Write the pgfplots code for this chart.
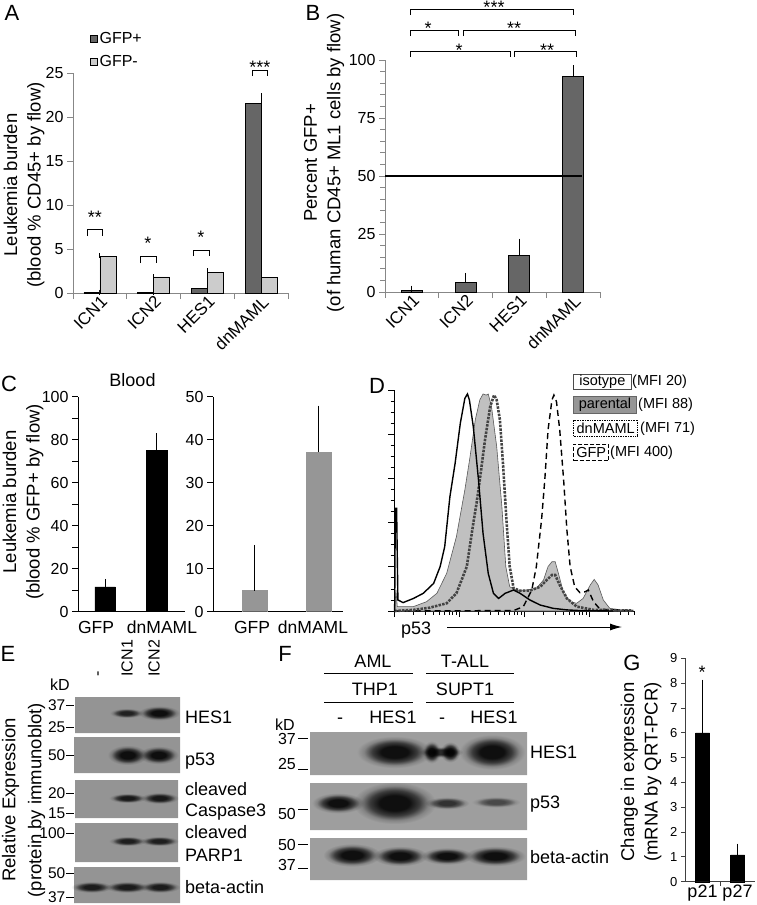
\documentclass[border=0pt]{standalone}
\usepackage{pgfplots}
\pgfplotsset{compat=1.18}
\usepackage{fontspec}
\setmainfont{Liberation Sans}
\usetikzlibrary{arrows.meta}
\newcommand\fs[2]{\fontsize{#1}{#2}\selectfont}
\definecolor{dgray}{RGB}{102,102,102}
\definecolor{lgray}{RGB}{204,204,204}
\definecolor{mgray}{RGB}{150,150,150}
\definecolor{axgray}{RGB}{135,135,135}
\definecolor{blotE}{RGB}{148,148,148}
\definecolor{blotF}{RGB}{158,158,158}
\definecolor{parfill}{RGB}{192,192,192}
\definecolor{dnline}{RGB}{68,68,68}
\pgfdeclareradialshading{bandsh}{\pgfpoint{0bp}{0bp}}{color(0bp)=(black!90); color(9bp)=(black!90); color(15bp)=(black!62); color(20.5bp)=(black!16); color(25bp)=(white); color(50bp)=(white)}
\pgfplotsset{
  /pgf/number format/assume math mode=true,
  every axis/.append style={scale only axis, anchor=south west,
    tick label style={font=\fs{16}{18}}},
  myerr/.style={error bars/.cd, y dir=plus, y explicit,
     error bar style={black, line width=0.8pt},
     error mark options={black, mark size=#1, line width=0.8pt}},
}
% band: left right top bottom opacity (soft blot band, multiplied onto the membrane)
\newcommand\band[5]{%
  \addplot[draw=none, shading=bandsh, blend mode=multiply, opacity=#5] coordinates {(#1,-#3) (#2,-#3) (#2,-#4) (#1,-#4) (#1,-#3)};}
\newcommand\strip[5]{%
  \addplot[fill=#5, draw=none] coordinates {(#1,-#3) (#2,-#3) (#2,-#4) (#1,-#4) (#1,-#3)};}
\begin{document}
\begin{tikzpicture}
\useasboundingbox (0pt,0pt) rectangle (756pt,-905pt);

% ---------- canvas for immunoblots (E, F) ----------
\begin{axis}[at={(0pt,0pt)}, anchor=north west, width=756pt, height=905pt,
  xmin=0, xmax=756, ymin=-905, ymax=0, hide axis, clip=false]
\strip{75}{180}{697}{733}{blotE}
\strip{74}{180}{737}{773}{blotE}
\strip{75}{178}{780}{818}{blotE}
\strip{75}{178}{823}{862}{blotE}
\strip{74}{180}{867}{903}{blotE}
\band{109.7}{143.3}{708.2}{717.8}{0.85}
\band{138.3}{179.7}{705.7}{720.3}{1}
\band{107.6}{147.4}{745.1}{764.9}{1}
\band{138.6}{178.4}{746}{764}{1}
\band{109.1}{145.9}{793.2}{802.8}{0.92}
\band{140.6}{178.5}{792.4}{803.6}{0.92}
\band{109.1}{145.9}{836.2}{845.8}{0.88}
\band{140}{178.5}{836.2}{845.8}{0.88}
\band{71}{112}{881.4}{892.6}{0.9}
\band{105}{149}{881.4}{892.6}{0.9}
\band{140}{180}{881.4}{892.6}{0.9}
\strip{310}{527}{732}{775}{blotF}
\strip{310}{527}{783}{830}{blotF}
\strip{310}{527}{838}{880}{blotF}
\band{357}{432}{736}{768}{1}
\band{422.5}{440.5}{741}{763}{1}
\band{440.2}{459.8}{741.8}{762.2}{1}
\band{419}{463}{746.5}{757.5}{0.8}
\band{459}{525}{734.5}{769.5}{1}
\band{312}{364}{792.8}{813.2}{1}
\band{353}{436}{782}{824}{1}
\band{425}{469}{796.8}{809.2}{0.75}
\band{472}{520}{796.6}{807.4}{0.6}
\band{323}{381}{843.5}{866.5}{1}
\band{372.5}{427.5}{846}{866}{1}
\band{421}{473}{847.5}{864.5}{1}
\band{464.5}{525.5}{846}{866}{1}
\end{axis}

% ---------- Panel A ----------
\begin{axis}[at={(73pt,-293pt)}, width=215pt, height=220pt,
  xmin=-0.5, xmax=3.5, ymin=0, ymax=25, clip=false,
  axis x line*=bottom, axis y line*=left,
  axis line style={axgray, line width=0.8pt},
  tick style={axgray, line width=0.8pt}, tick align=outside, major tick length=6pt,
  xtick={-0.5,0.5,1.5,2.5,3.5}, xticklabels={,,,,},
  extra x ticks={0,1,2,3}, extra x tick labels={ICN1,ICN2,HES1,dnMAML},
  extra x tick style={major tick length=0pt, xticklabel style={rotate=45, anchor=north east, font=\fs{17}{19}, inner sep=1pt}},
  ytick={0,5,...,25},
  legend style={at={(0.078,1.195)}, anchor=north west, draw=none, fill=none, font=\fs{16}{18}, row sep=6pt, inner sep=0pt},
  legend cell align=left,
  legend image code/.code={\draw[#1, draw=black, line width=0.6pt] (0pt,-3.5pt) rectangle (7pt,3.5pt);},
]
\addplot[ybar, bar width=16pt, bar shift=-8pt, fill=dgray, draw=black, line width=0.7pt, myerr=2.5pt]
  coordinates {(0,0.06) +- (0,0) (1,0.08) +- (0,0) (2,0.49) +- (0,0.16) (3,21.5) +- (0,0.9)};
\addlegendentry{GFP+}
\addplot[ybar, bar width=16pt, bar shift=8pt, fill=lgray, draw=black, line width=0.7pt, myerr=2.5pt]
  coordinates {(0,4.2) +- (0,0.05) (1,1.82) +- (0,0.05) (2,2.35) +- (0,0.18) (3,1.74) +- (0,1.9)};
\addlegendentry{GFP-}
\end{axis}

% ---------- Panel B ----------
\begin{axis}[at={(385pt,-292pt)}, width=215pt, height=232pt,
  xmin=-0.5, xmax=3.5, ymin=0, ymax=100, clip=false,
  axis x line*=bottom, axis y line*=left,
  axis line style={axgray, line width=0.8pt},
  tick style={axgray, line width=0.8pt}, tick align=outside, major tick length=6pt, minor tick length=5pt,
  xtick={-0.5,0.5,1.5,2.5,3.5}, xticklabels={,,,,},
  extra x ticks={0,1,2,3}, extra x tick labels={ICN1,ICN2,HES1,dnMAML},
  extra x tick style={major tick length=0pt, xticklabel style={rotate=45, anchor=north east, font=\fs{17}{19}, inner sep=1pt}},
  ytick={0,25,...,100}, minor y tick num=4,
]
\addplot[ybar, bar width=21pt, bar shift=0pt, fill=dgray, draw=black, line width=0.8pt, myerr=3pt]
  coordinates {(0,0.8) +- (0,0.7) (1,4.3) +- (0,2.6) (2,15.6) +- (0,6.1) (3,92.8) +- (0,3.7)};
\addplot[black, line width=1.3pt] coordinates {(-0.5,50) (3.17,50)};
\end{axis}

% ---------- Panel C left ----------
\begin{axis}[at={(78pt,-611.7pt)}, width=107pt, height=215pt,
  xmin=0, xmax=107, ymin=0, ymax=100,
  axis x line*=bottom, axis y line*=left,
  axis line style={black, line width=0.9pt},
  ytick={0,20,...,100}, minor y tick num=1,
  tick align=outside, major tick length=6pt, minor tick length=6pt,
  ytick style={black, line width=0.9pt},
  xtick={18,84}, xticklabels={GFP,dnMAML}, xtick style={draw=none},
  xticklabel style={font=\fs{17.5}{19}},
]
\addplot[ybar, bar width=20.5pt, bar shift=0pt, fill=black, draw=black, myerr=3.5pt]
  coordinates {(27,11.6) +- (0,2.1) (78.5,75.2) +- (0,6.2)};
\end{axis}

% ---------- Panel C right ----------
\begin{axis}[at={(213pt,-611.7pt)}, width=130pt, height=215pt,
  xmin=0, xmax=130, ymin=0, ymax=50,
  axis x line*=bottom, axis y line*=left,
  axis line style={black, line width=0.9pt},
  ytick={0,10,...,50},
  tick align=outside, major tick length=6pt,
  ytick style={black, line width=0.9pt},
  xtick={39,100}, xticklabels={GFP,dnMAML}, xtick style={draw=none},
  xticklabel style={font=\fs{17.5}{19}},
]
\addplot[ybar, bar width=25pt, bar shift=0pt, fill=mgray, draw=mgray, myerr=3.5pt]
  coordinates {(41.5,4.9) +- (0,9.8) (105.5,37.1) +- (0,10.0)};
\end{axis}

% ---------- Panel D ----------
\begin{axis}[at={(394pt,-611pt)}, width=241pt, height=221pt,
  xmin=0, xmax=3.708, ymin=0, ymax=100, clip=false,
  axis x line*=bottom, axis y line*=left,
  axis line style={black, line width=1pt},
  tick align=outside, major tick length=6pt, minor tick length=3.5pt,
  tick style={black, line width=0.8pt},
  xtick={0,1,2,3}, xticklabels={,,,},
  minor xtick={0.301,0.477,0.602,0.699,0.778,0.845,0.903,0.954,1.301,1.477,1.602,1.699,1.778,1.845,1.903,1.954,2.301,2.477,2.602,2.699,2.778,2.845,2.903,2.954,3.301,3.477,3.602,3.699},
  ytick={0,20,...,100}, yticklabels={,,,,,}, minor y tick num=3,
]
\addplot[fill=parfill, draw=gray!70!black, line width=0.6pt] coordinates {
(0.01,0) (0.03,9.5) (0.05,2.0) (0.30,2.0) (0.50,4.2) (0.66,8.0) (0.81,17.0) (0.96,33.6) (1.09,54.8) (1.17,69.8) (1.25,86.4) (1.32,95.5) (1.37,98.2) (1.42,97.7) (1.45,98.2) (1.50,92.5) (1.58,74.4) (1.66,47.2) (1.72,20.1) (1.78,11.0) (1.89,9.2) (2.04,9.5) (2.19,10.3) (2.30,14.0) (2.37,20.1) (2.43,22.3) (2.48,22.3) (2.53,17.0) (2.61,8.0) (2.71,4.2) (2.81,3.5) (2.91,5.7) (3.02,11.8) (3.08,14.3) (3.14,11.8) (3.22,5.0) (3.32,1.2) (3.48,0.5) (3.68,0.2)} \closedcycle;
\addplot[black, line width=1.4pt, dash pattern=on 6pt off 4pt] coordinates {
(0.01,0) (1.84,0.2) (1.99,2.0) (2.12,9.5) (2.19,20.1) (2.27,41.2) (2.32,59.3) (2.37,81.9) (2.43,95.5) (2.46,97.7) (2.50,94.7) (2.55,81.9) (2.61,59.3) (2.66,36.7) (2.71,20.1) (2.78,11.0) (2.86,8.3) (2.94,8.7) (2.99,9.5) (3.07,4.2) (3.17,0.8) (3.68,0.2)};
\addplot[dnline, line width=2.6pt, dash pattern=on 2.5pt off 1.2pt] coordinates {
(0.01,0) (0.30,0.5) (0.55,1.5) (0.81,3.5) (0.96,8.0) (1.12,20.1) (1.22,39.7) (1.27,48.7) (1.32,59.3) (1.40,77.4) (1.48,92.5) (1.54,97.7) (1.58,95.5) (1.63,86.4) (1.68,65.3) (1.73,41.2) (1.78,20.1) (1.84,10.3) (1.94,9.2) (2.09,9.2) (2.25,11.0) (2.35,14.0) (2.43,16.3) (2.48,16.3) (2.55,11.8) (2.66,5.7) (2.81,2.0) (3.07,0.5) (3.68,0.2)};
\addplot[black, line width=1.4pt] coordinates {
(0.01,0) (0.02,46.5) (0.04,46.5) (0.06,5.0) (0.14,3.8) (0.30,5.7) (0.45,8.0) (0.61,12.5) (0.71,20.1) (0.78,29.1) (0.86,51.7) (0.94,66.8) (1.02,84.9) (1.09,96.2) (1.13,98.2) (1.16,95.5) (1.22,83.4) (1.30,59.3) (1.37,35.1) (1.45,17.0) (1.53,8.0) (1.61,5.7) (1.71,8.0) (1.84,9.5) (1.94,8.0) (2.09,5.0) (2.25,2.7) (2.45,1.2) (2.66,0.5) (2.86,0.2) (3.37,0)};
\end{axis}

% ---------- Panel G ----------
\begin{axis}[at={(685pt,-881.7pt)}, width=70pt, height=223.4pt,
  xmin=-0.5, xmax=1.5, ymin=0, ymax=9, clip=false,
  axis x line*=bottom, axis y line*=left,
  axis line style={black!75, line width=0.8pt},
  tick style={black!75, line width=0.8pt}, tick align=outside, major tick length=4pt,
  ytick={0,1,...,9}, yticklabel style={font=\fs{13}{15}},
  xtick={0.5}, xticklabels={},
  extra x ticks={0,1}, extra x tick labels={p21,p27},
  extra x tick style={major tick length=0pt, xticklabel style={font=\fs{18}{20}}},
]
\addplot[ybar, bar width=14pt, bar shift=0pt, fill=black, draw=black, myerr=3pt]
  coordinates {(0,6.0) +- (0,2.02) (1,1.08) +- (0,0.33)};
\end{axis}

% ---------- texts and annotations ----------
\tikzset{lbl/.style={font=\fs{18}{20}}, ttl/.style={font=\fs{18.5}{23.5}, rotate=90, align=center}}
\node[font=\fs{22}{24}] at (12pt,-12.5pt) {A};
\node[font=\fs{22}{24}] at (313pt,-12.5pt) {B};
\node[font=\fs{22}{24}] at (9pt,-384pt) {C};
\node[font=\fs{22}{24}] at (377pt,-386pt) {D};
\node[font=\fs{22}{24}] at (8pt,-654pt) {E};
\node[font=\fs{22}{24}] at (285pt,-654pt) {F};
\node[font=\fs{22}{24}] at (632pt,-663pt) {G};

\node[ttl] at (24pt,-185pt) {Leukemia burden\\(blood \% CD45+ by flow)};
\node[ttl] at (324pt,-163pt) {Percent GFP+\\(of  human CD45+ ML1 cells by flow)};
\node[ttl] at (23pt,-502pt) {Leukemia burden\\(blood \% GFP+ by flow)};
\node[ttl, font=\fs{18.5}{26}] at (23.5pt,-800pt) {Relative Expression\\(protein by immunoblot)};
\node[ttl] at (641pt,-772pt) {Change in expression\\(mRNA by QRT-PCR)};

% significance A
\draw[black, line width=0.8pt] (87pt,-236pt) -- (87pt,-229pt) -- (102pt,-229pt) -- (102pt,-236pt);
\draw[black, line width=0.8pt] (140pt,-263pt) -- (140pt,-256pt) -- (156pt,-256pt) -- (156pt,-263pt);
\draw[black, line width=0.8pt] (193pt,-256pt) -- (193pt,-250pt) -- (209pt,-250pt) -- (209pt,-256pt);
\draw[black, line width=0.8pt] (252pt,-76pt) -- (252pt,-70pt) -- (267pt,-70pt) -- (267pt,-76pt);
\node[lbl, anchor=base] at (95pt,-223pt) {**};
\node[lbl, anchor=base] at (148pt,-249pt) {*};
\node[lbl, anchor=base] at (201pt,-243pt) {*};
\node[lbl, anchor=base] at (260pt,-73pt) {***};
% significance B
\draw[black, line width=0.8pt] (410pt,-15pt) -- (410pt,-9.3pt) -- (573pt,-9.3pt) -- (573pt,-15pt);
\draw[black, line width=0.8pt] (410pt,-36pt) -- (410pt,-30.7pt) -- (458pt,-30.7pt) -- (458pt,-36pt);
\draw[black, line width=0.8pt] (463pt,-36pt) -- (463pt,-30.7pt) -- (575pt,-30.7pt) -- (575pt,-36pt);
\draw[black, line width=0.8pt] (410pt,-57pt) -- (410pt,-51.7pt) -- (510pt,-51.7pt) -- (510pt,-57pt);
\draw[black, line width=0.8pt] (514pt,-57pt) -- (514pt,-51.7pt) -- (576pt,-51.7pt) -- (576pt,-57pt);
\node[lbl, anchor=base] at (494pt,-13pt) {***};
\node[lbl, anchor=base] at (428pt,-34pt) {*};
\node[lbl, anchor=base] at (514pt,-34pt) {**};
\node[lbl, anchor=base] at (459pt,-56pt) {*};
\node[lbl, anchor=base] at (547pt,-56pt) {**};
% C title
\node[font=\fs{18}{20}] at (132.5pt,-380pt) {Blood};
% D legend
\node[draw=black!70, line width=0.7pt, minimum width=57.5pt, minimum height=15pt, inner sep=1pt, anchor=west, font=\fs{14.5}{16}] at (573.3pt,-381.8pt) {isotype};
\node[anchor=west, inner sep=1pt, font=\fs{14.5}{16}] at (631pt,-381.8pt) {(MFI 20)};
\node[draw=black!60, fill=mgray, line width=0.7pt, minimum width=62.7pt, minimum height=16.6pt, inner sep=1pt, anchor=west, font=\fs{14.5}{16}] at (573.3pt,-405pt) {parental};
\node[anchor=west, inner sep=1pt, font=\fs{14.5}{16}] at (637pt,-405pt) {(MFI 88)};
\node[draw=black, densely dotted, line width=0.7pt, minimum width=64pt, minimum height=16.7pt, inner sep=1pt, anchor=west, font=\fs{14.5}{16}] at (573.3pt,-428.3pt) {dnMAML};
\node[anchor=west, inner sep=1pt, font=\fs{14.5}{16}] at (639pt,-428.3pt) {(MFI 71)};
\node[draw=black, dash pattern=on 4pt off 2pt, line width=0.7pt, minimum width=35pt, minimum height=16.7pt, inner sep=1pt, anchor=west, font=\fs{14.5}{16}] at (573.3pt,-452.3pt) {GFP};
\node[anchor=west, inner sep=1pt, font=\fs{14.5}{16}] at (609pt,-452.3pt) {(MFI 400)};
\node[lbl, anchor=base west, inner sep=0pt] at (401pt,-634pt) {p53};
\draw[-{Latex[length=12pt,width=7pt]}, line width=1pt] (447pt,-627pt) -- (622pt,-627pt);
% E labels
\node[font=\fs{16}{18}, anchor=base west, inner sep=0pt] at (50pt,-690pt) {kD};
\node[font=\fs{16}{18}, rotate=90, anchor=west] at (100pt,-680pt) {-};
\node[font=\fs{16}{18}, rotate=90, anchor=west] at (127pt,-680pt) {ICN1};
\node[font=\fs{16}{18}, rotate=90, anchor=west] at (154pt,-680pt) {ICN2};
\foreach \v/\y in {37/705,25/727,50/755,20/793,15/813,100/833,50/873,37/897}{
  \node[font=\fs{15.5}{17}, anchor=east, inner sep=0.5pt] at (66pt,-\y pt) {\v};
  \draw[line width=0.8pt] (66pt,-\y pt) -- (74pt,-\y pt);
}
\foreach \t/\y in {HES1/723,p53/765,cleaved/795,Caspase3/816.5,cleaved/838,PARP1/861.5,beta-actin/893}{
  \node[lbl, anchor=base west, inner sep=0pt] at (185pt,-\y pt) {\t};
}
% F labels
\node[font=\fs{16}{18}] at (285pt,-725pt) {kD};
\foreach \v/\y in {37/739,25/764,50/814,50/845,37/865}{
  \node[font=\fs{16}{17}, anchor=east, inner sep=1pt] at (297pt,-\y pt) {\v};
}
\foreach \y in {738,769,809,844,868}{
  \draw[line width=0.8pt] (298pt,-\y pt) -- (308pt,-\y pt);
}
\node[lbl, anchor=base] at (373pt,-667pt) {AML};
\node[lbl, anchor=base] at (465pt,-667pt) {T-ALL};
\draw[line width=0.9pt] (324pt,-673.3pt) -- (413pt,-673.3pt);
\draw[line width=0.9pt] (426pt,-673.3pt) -- (514pt,-673.3pt);
\node[lbl, anchor=base] at (375pt,-695pt) {THP1};
\node[lbl, anchor=base] at (465pt,-695pt) {SUPT1};
\draw[line width=0.9pt] (324pt,-702.3pt) -- (413pt,-702.3pt);
\draw[line width=0.9pt] (426pt,-702.3pt) -- (514pt,-702.3pt);
\node[lbl, anchor=base] at (340pt,-723pt) {-};
\node[lbl, anchor=base] at (393pt,-723pt) {HES1};
\node[lbl, anchor=base] at (442pt,-723pt) {-};
\node[lbl, anchor=base] at (494pt,-723pt) {HES1};
\node[lbl, anchor=base west, inner sep=0pt] at (530pt,-758pt) {HES1};
\node[lbl, anchor=base west, inner sep=0pt] at (530pt,-808pt) {p53};
\node[lbl, anchor=base west, inner sep=0pt] at (530pt,-863pt) {beta-actin};
% G star
\node[lbl, anchor=base] at (702pt,-678pt) {*};
\end{tikzpicture}
\end{document}
